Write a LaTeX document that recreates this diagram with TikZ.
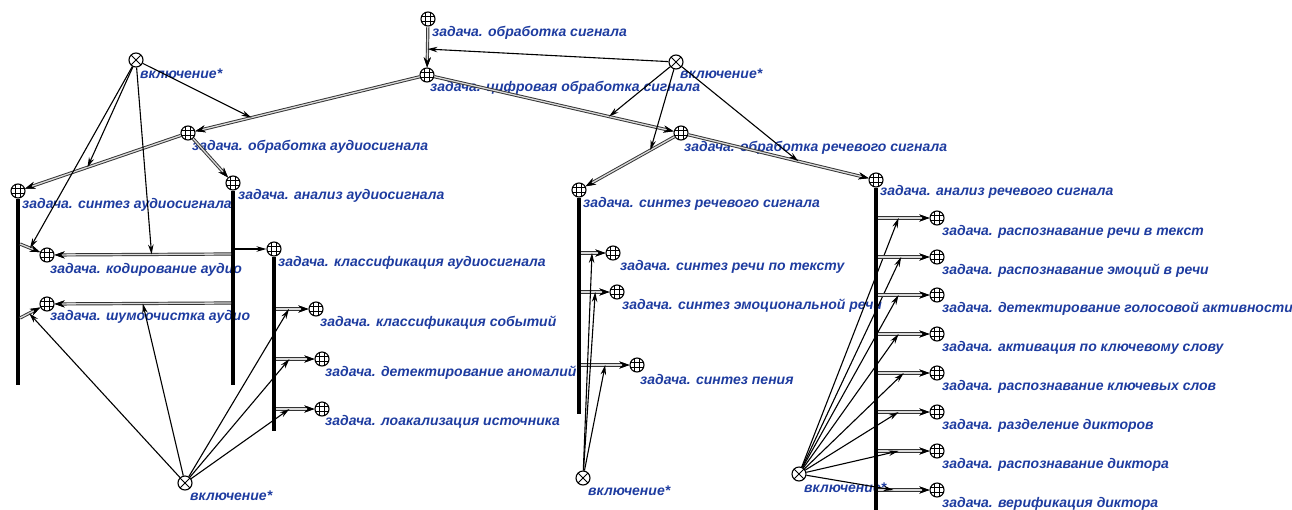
\documentclass[tikz,border=0pt]{standalone}
\usepackage{fontspec}
\setmainfont{Liberation Sans}
\usetikzlibrary{arrows.meta}
\definecolor{lblue}{RGB}{30,60,160}
\begin{document}
\begin{tikzpicture}[x=1pt,y=-1pt,
 cls/.style={circle,draw,line width=1.1pt,minimum size=14pt,inner sep=0pt,fill=white,
   path picture={
     \draw[line width=0.7pt] ([xshift=-2.4pt]path picture bounding box.north) -- ([xshift=-2.4pt]path picture bounding box.south)
       ([xshift=2.4pt]path picture bounding box.north) -- ([xshift=2.4pt]path picture bounding box.south)
       ([yshift=-2.4pt]path picture bounding box.west) -- ([yshift=-2.4pt]path picture bounding box.east)
       ([yshift=2.4pt]path picture bounding box.west) -- ([yshift=2.4pt]path picture bounding box.east);}},
 incl/.style={circle,draw,line width=1.1pt,minimum size=14pt,inner sep=0pt,fill=white,
   path picture={
     \draw[line width=0.9pt] (path picture bounding box.north west) -- (path picture bounding box.south east)
       (path picture bounding box.north east) -- (path picture bounding box.south west);}},
 lbl/.style={anchor=west,inner sep=0pt,text=lblue,font=\fontsize{14}{14}\selectfont\bfseries\itshape},
 dbl/.style={draw=black!15,line width=1.3pt,preaction={draw=black!80,line width=3.2pt},
   -{Stealth[length=10pt,width=7pt,black]}},
 rel/.style={draw=black,line width=1.1pt,-{Stealth[length=10pt,width=5.5pt]}},
 bar/.style={line width=3.8pt}]
\useasboundingbox (0,0) rectangle (1292,509);

% ---------- nodes ----------
\node[cls] (tS) at (428,19) {};
\node[lbl] (tS-l) at (432,33) {задача. обработка сигнала};
\node[cls] (tD) at (427,75) {};
\node[lbl] (tD-l) at (430,88) {задача. цифровая обработка сигнала};
\node[incl] (iR) at (676,62) {};
\node[lbl] (iR-l) at (680,74) {включение*};
\node[incl] (iL) at (136,60) {};
\node[lbl] (iL-l) at (140,74) {включение*};
\node[cls] (tA) at (188,133) {};
\node[lbl] (tA-l) at (192,147) {задача. обработка аудиосигнала};
\node[cls] (tR) at (681,133) {};
\node[lbl] (tR-l) at (684,148) {задача. обработка речевого сигнала};
\node[cls] (tAS) at (18,191) {};
\node[lbl] (tAS-l) at (22,205) {задача. синтез аудиосигнала};
\node[cls] (tAA) at (233,183) {};
\node[lbl] (tAA-l) at (238,196) {задача. анализ аудиосигнала};
\node[cls] (tRS) at (579,190) {};
\node[lbl] (tRS-l) at (583,204) {задача. синтез речевого сигнала};
\node[cls] (tRA) at (876,180) {};
\node[lbl] (tRA-l) at (880,192) {задача. анализ речевого сигнала};
\node[cls] (tEnc) at (47,255) {};
\node[lbl] (tEnc-l) at (50,270) {задача. кодирование аудио};
\node[cls] (tDen) at (47,304) {};
\node[lbl] (tDen-l) at (50,317) {задача. шумоочистка аудио};
\node[cls] (tCl) at (274,249) {};
\node[lbl] (tCl-l) at (278,263) {задача. классификация аудиосигнала};
\node[cls] (tEv) at (316,309) {};
\node[lbl] (tEv-l) at (320,323) {задача. классификация событий};
\node[cls] (tAn) at (322,359) {};
\node[lbl] (tAn-l) at (325,373) {задача. детектирование аномалий};
\node[cls] (tLoc) at (322,409) {};
\node[lbl] (tLoc-l) at (325,422) {задача. лоакализация источника};
\node[incl] (iBL) at (185,483) {};
\node[lbl] (iBL-l) at (190,496) {включение*};
\node[cls] (tTTS) at (613,253) {};
\node[lbl] (tTTS-l) at (620,267) {задача. синтез речи по тексту};
\node[cls] (tEmo) at (617,292) {};
\node[lbl] (tEmo-l) at (622,306) {задача. синтез эмоциональной речи};
\node[cls] (tSing) at (637,365) {};
\node[lbl] (tSing-l) at (640,379) {задача. синтез пения};
\node[incl] (iBM) at (583,478) {};
\node[lbl] (iBM-l) at (588,491) {включение*};
\node[incl] (iBR) at (799,474) {};
\node[lbl] (iBR-l) at (804,488) {включение*};
\foreach \i/\y/\t in {1/218/{задача. распознавание речи в текст},
  2/257/{задача. распознавание эмоций в речи},
  3/295/{задача. детектирование голосовой активности},
  4/334/{задача. активация по ключевому слову},
  5/373/{задача. распознавание ключевых слов},
  6/412/{задача. разделение дикторов},
  7/451/{задача. распознавание диктора},
  8/490/{задача. верификация диктора}}{
  \node[cls] (r\i) at (937,\y) {};
  \node[lbl] (r\i-l) at (942,\y+14) {\t};
}

% ---------- bars ----------
\coordinate (eAS) at (18,385);  \draw[bar] (tAS.south) -- (eAS);
\coordinate (eAA) at (233,385); \draw[bar] (tAA.south) -- (eAA);
\coordinate (eCl) at (274,431); \draw[bar] (tCl.south) -- (eCl);
\coordinate (eRS) at (579,414); \draw[bar] (tRS.south) -- (eRS);
\coordinate (eRA) at (876,515); \draw[bar] (tRA.south) -- (eRA);

% ---------- double arcs ----------
\draw[dbl] (tS) -- coordinate[pos=.55] (m0) (tD);
\draw[dbl] (tD) -- coordinate[pos=.75] (m1) (tA);
\draw[dbl] (tD) -- coordinate[pos=.73] (m2) (tR);
\draw[dbl] (tR) -- coordinate[pos=.27] (m3) (tRS);
\draw[dbl] (tR) -- coordinate[pos=.61] (m4) (tRA);
\draw[dbl] (tA) -- coordinate[pos=.6] (m5) (tAS);
\draw[dbl] (tA) -- (tAA);

\coordinate (bEnc) at (20,244);
\draw[dbl] (bEnc) -- coordinate[pos=.5] (m6) (tEnc);
\coordinate (aEnc) at (231,254);
\draw[dbl] (aEnc) -- coordinate[pos=.45] (m7) (tEnc);
\coordinate (bDen) at (20,318);
\draw[dbl] (bDen) -- coordinate[pos=.45] (m8) (tDen);
\coordinate (aDen) at (231,303);
\draw[dbl] (aDen) -- coordinate[pos=.5] (m9) (tDen);

\coordinate (aCl) at (235,249);
\draw[rel] (aCl) -- (tCl);

\coordinate (cEv) at (276,309);
\draw[dbl] (cEv) -- coordinate[pos=.4] (m10) (tEv);
\coordinate (cAn) at (276,359);
\draw[dbl] (cAn) -- coordinate[pos=.35] (m11) (tAn);
\coordinate (cLoc) at (276,409);
\draw[dbl] (cLoc) -- coordinate[pos=.35] (m12) (tLoc);

\coordinate (sTTS) at (581,253);
\draw[dbl] (sTTS) -- coordinate[pos=.45] (m13) (tTTS);
\coordinate (sEmo) at (581,292);
\draw[dbl] (sEmo) -- coordinate[pos=.5] (m14) (tEmo);
\coordinate (sSing) at (581,365);
\draw[dbl] (sSing) -- coordinate[pos=.5] (m15) (tSing);

\foreach \i/\y/\p in {1/218/.4,2/257/.45,3/295/.4,4/334/.4,5/373/.5,6/412/.4,7/451/.4,8/490/.3}{
  \coordinate (rb\i) at (878,\y);
  \draw[dbl] (rb\i) -- coordinate[pos=\p] (rm\i) (r\i);
  \draw[rel] (iBR) -- (rm\i);
}

% ---------- inclusion arrows ----------
\draw[rel] (iR) -- (m0);
\draw[rel] (iR) -- (m2);
\draw[rel] (iR) -- (m3);
\draw[rel] (iR) -- (m4);
\draw[rel] (iL) -- (m1);
\draw[rel] (iL) -- (m5);
\draw[rel] (iL) -- (m6);
\draw[rel] (iL) -- (m7);
\draw[rel] (iBL) -- (m8);
\draw[rel] (iBL) -- (m9);
\draw[rel] (iBL) -- (m10);
\draw[rel] (iBL) -- (m11);
\draw[rel] (iBL) -- (m12);
\draw[rel] (iBM) -- (m13);
\draw[rel] (iBM) -- (m14);
\draw[rel] (iBM) -- (m15);
\end{tikzpicture}
\end{document}
